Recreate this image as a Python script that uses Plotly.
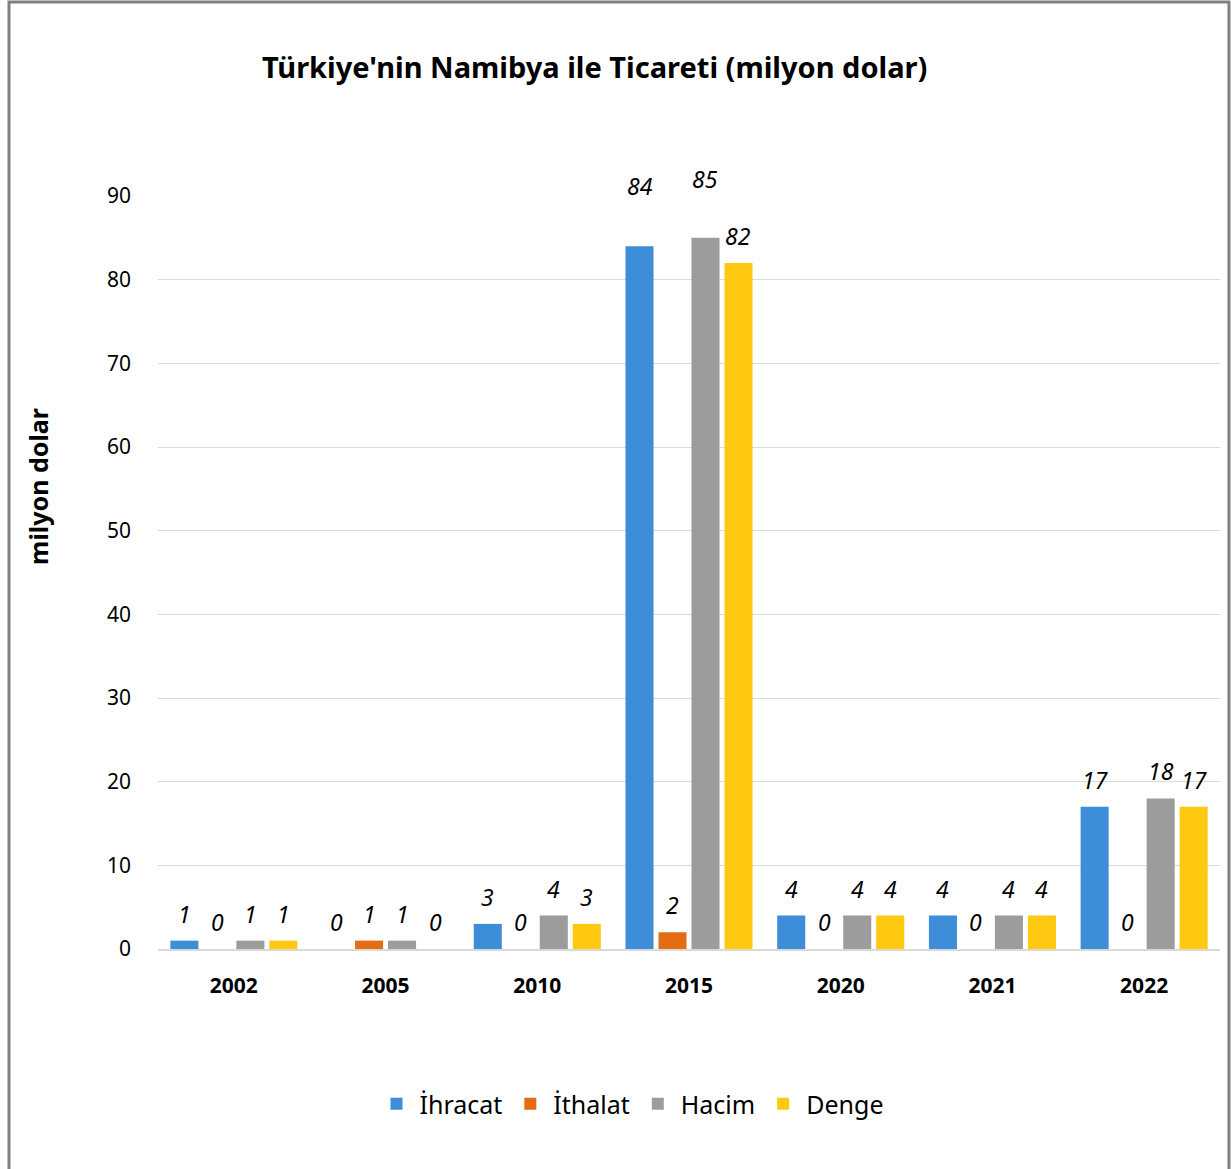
import plotly.graph_objects as go

years = ["2002", "2005", "2010", "2015", "2020", "2021", "2022"]
ihracat = [1, 0, 3, 84, 4, 4, 17]
ithalat = [0, 1, 0, 2, 0, 0, 0]
hacim = [1, 1, 4, 85, 4, 4, 18]
denge = [1, 0, 3, 82, 4, 4, 17]

series = [
    ("İhracat", ihracat, "#3D8DD8"),
    ("İthalat", ithalat, "#E46C12"),
    ("Hacim", hacim, "#9C9C9C"),
    ("Denge", denge, "#FFC811"),
]

FONT = "Noto Sans"

W, H = 1231, 1169
ml, mr, mt, mb = 158, 11, 196, 220
pw, ph = W - ml - mr, H - mt - mb
BARGAP, GROUPGAP = 0.13, 0.15
slot = pw / len(years) * (1 - BARGAP) / len(series)

# labels that were dragged higher in the original chart
label_lift = {("İhracat", "2015"): 60, ("Hacim", "2015"): 59}

def px(x):
    return (x - ml) / pw
def py(y):
    return (H - mb - y) / ph

fig = go.Figure()
for i, (name, vals, color) in enumerate(series):
    fig.add_trace(go.Bar(
        x=years,
        y=vals,
        name=name,
        marker=dict(color=color, line=dict(width=0)),
        hoverinfo="x+y+name",
    ))
    # data labels, Excel style (italic, above the bar)
    # category axis: annotation x is the category index
    for j, v in enumerate(vals):
        fig.add_annotation(
            x=j, y=v, text=str(v), showarrow=False,
            xshift=(i - 1.5) * slot,
            yshift=label_lift.get((name, years[j]), 27),
            font=dict(family=FONT, size=23, color="black", style="italic"),
        )

# y axis title sits above the middle of the axis, as in the original
fig.add_annotation(
    text="<b>milyon dolar</b>", textangle=-90, showarrow=False,
    xref="paper", yref="paper", x=px(38), y=py(487),
    xanchor="center", yanchor="middle",
    font=dict(family=FONT, size=25, color="black"),
)

# chart area border
fig.add_shape(type="rect", xref="paper", yref="paper",
              x0=px(9), x1=px(1229), y0=py(1180), y1=py(2),
              line=dict(color="#808080", width=3), layer="below")

fig.update_layout(
    width=W, height=H,
    margin=dict(l=ml, r=mr, t=mt, b=mb),
    paper_bgcolor="white",
    plot_bgcolor="white",
    barmode="group",
    bargap=BARGAP,
    bargroupgap=GROUPGAP,
    font=dict(family=FONT, size=21, color="black"),
    title=dict(
        text="<b>Türkiye'nin Namibya ile Ticareti (milyon dolar)</b>",
        x=0.0, xanchor="left", xref="paper",
        y=1 - 68 / H, yanchor="middle",
        font=dict(family=FONT, size=29, color="black"),
        pad=dict(l=262 - ml),
    ),
    xaxis=dict(
        type="category",
        range=[-0.5, len(years) - 0.5],
        showgrid=False,
        showline=True, linecolor="#D9D9D9", linewidth=2,
        tickfont=dict(family=FONT, size=21, color="black", weight="bold"),
        ticks="", ticklabelstandoff=17,
    ),
    yaxis=dict(
        range=[0, 90], dtick=10,
        showgrid=True, gridcolor="#D9D9D9", gridwidth=1,
        zeroline=False, showline=False,
        tickfont=dict(family=FONT, size=21, color="black"),
        ticks="", ticklabelstandoff=26,
    ),
    legend=dict(
        orientation="h",
        x=px(631), xanchor="center",
        y=py(1104), yanchor="middle",
        font=dict(family=FONT, size=25, color="black"),
        itemwidth=36,
        traceorder="normal",
    ),
)

fig.write_html("out.html", config={"displayModeBar": False},
               post_script="document.body.style.margin='0px';")
